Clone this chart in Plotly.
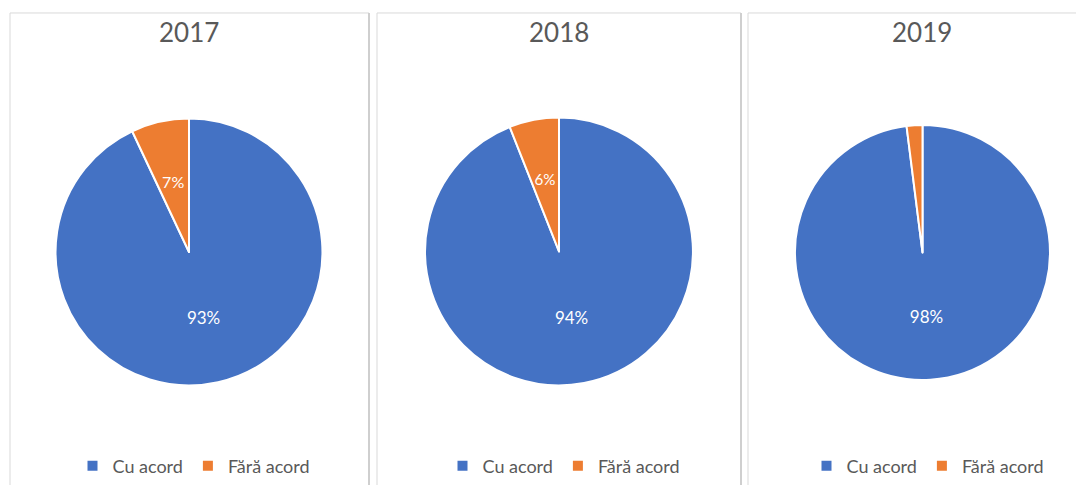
import plotly.graph_objects as go

years = ["2017", "2018", "2019"]
labels = ["Cu acord", "Fără acord"]
cu_acord = [93, 94, 98]
fara_acord = [7, 6, 2]
show_small_label = [True, True, False]

OFF = 8  # browser body margin
W, H = 1084 - 2 * OFF, 493 - 2 * OFF
colors = ["#4472C4", "#ED7D31"]
FONT = "Lato, Calibri, Arial, sans-serif"

# pie boxes in screen pixels (left, right, top, bottom)
pie_boxes = [(55, 323, 119, 387), (425, 693, 118, 387), (795, 1050, 125, 382)]
panels = [(10, 369), (377, 741), (748, 1100)]
legend_centers = [194, 564, 928]
title_centers = [189, 559, 922]
LABEL_SCALE = 0.66  # radius of the text-only overlay pie


def px(x):
    return (x - OFF) / W


def py(y):
    return 1 - (y - OFF) / H


fig = go.Figure()
for i, yr in enumerate(years):
    vals = [cu_acord[i], fara_acord[i]]
    lab_i = [lab + "\u200b" * i for lab in labels]
    l, r, t, b = pie_boxes[i]
    cx, cy, rad = (l + r) / 2, (t + b) / 2, (r - l) / 2
    lname = "legend" if i == 0 else f"legend{i+1}"
    fig.add_trace(go.Pie(
        labels=lab_i, values=vals, text=[f"{cu_acord[i]}%", ""], textinfo="text",
        textposition="inside", insidetextorientation="horizontal",
        sort=False, direction="clockwise", rotation=0,
        marker=dict(colors=colors, line=dict(color="white", width=2)),
        textfont=dict(color="white", size=17, family=FONT),
        domain=dict(x=[px(l), px(r)], y=[py(b), py(t)]),
        legend=lname, hoverinfo="label+percent", name=yr,
    ))
    # transparent overlay pie carrying the small-slice label near half radius
    sr = rad * LABEL_SCALE
    fig.add_trace(go.Pie(
        labels=lab_i, values=vals,
        text=["", f"{fara_acord[i]}%" if show_small_label[i] else ""],
        textinfo="text", textposition="inside", insidetextorientation="horizontal",
        sort=False, direction="clockwise", rotation=0,
        marker=dict(colors=["rgba(0,0,0,0)"] * 2, line=dict(width=0)),
        textfont=dict(color="white", size=16, family=FONT),
        domain=dict(x=[px(cx - sr), px(cx + sr)], y=[py(cy + sr), py(cy - sr)]),
        showlegend=False, hoverinfo="skip", legend=lname,
    ))
    fig.add_annotation(text=yr, x=px(title_centers[i]), y=py(32),
                       xref="paper", yref="paper", showarrow=False,
                       xanchor="center", yanchor="middle",
                       font=dict(size=26, color="#595959", family=FONT))
    x0, x1 = panels[i]
    fig.add_shape(type="rect", xref="paper", yref="paper",
                  x0=px(x0), x1=px(x1), y0=-0.1, y1=py(13),
                  line=dict(color="#d9d9d9", width=1), layer="below")
    fig.add_shape(type="line", xref="paper", yref="paper",
                  x0=px(x1), x1=px(x1), y0=-0.1, y1=py(13),
                  line=dict(color="#cfcfcf", width=2), layer="below")

legend_base = dict(orientation="h", yanchor="middle", y=py(468),
                   xanchor="center", bgcolor="rgba(0,0,0,0)",
                   font=dict(size=18, color="#595959", family=FONT),
                   itemwidth=30, traceorder="normal")
layout_legends = {}
for i in range(3):
    key = "legend" if i == 0 else f"legend{i+1}"
    layout_legends[key] = dict(legend_base, x=px(legend_centers[i]))

fig.update_layout(
    width=W, height=H, margin=dict(l=0, r=0, t=0, b=0),
    paper_bgcolor="white", plot_bgcolor="white",
    showlegend=True, font=dict(family=FONT),
    **layout_legends,
)
fig.write_html("out.html")
